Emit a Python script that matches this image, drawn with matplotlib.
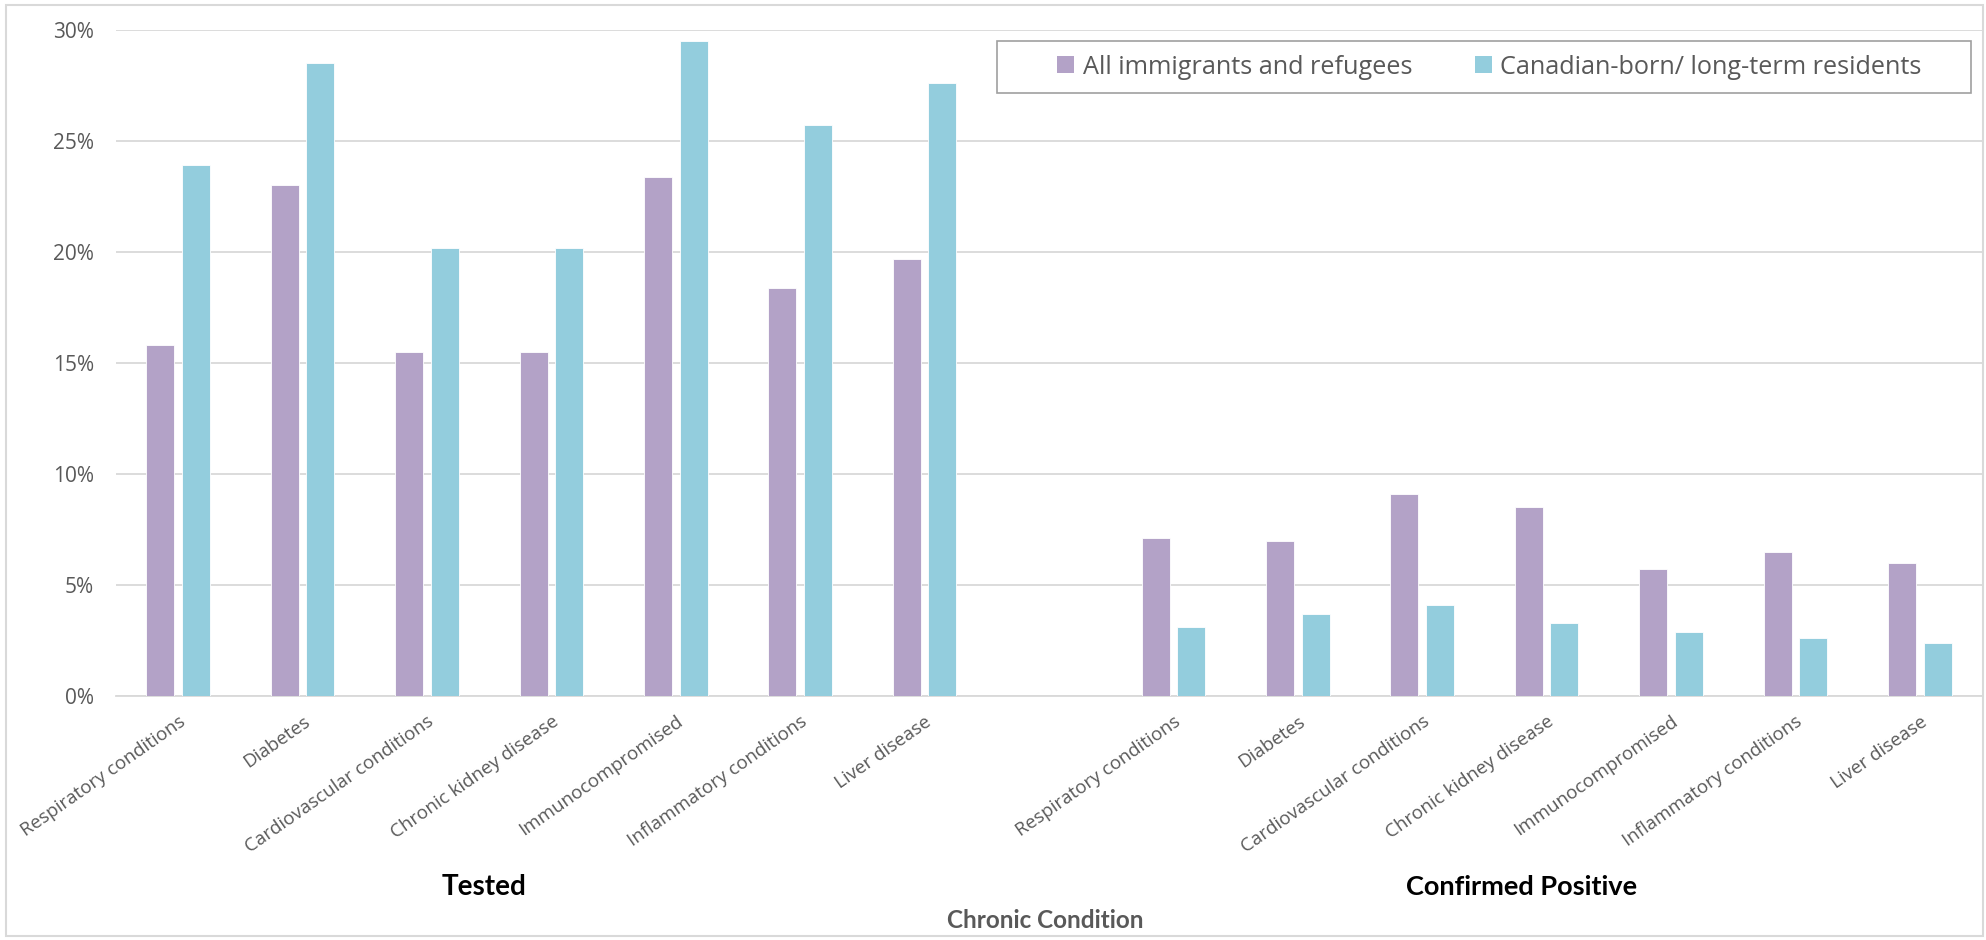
import matplotlib
matplotlib.use("Agg")
import matplotlib.pyplot as plt
from matplotlib.patches import Rectangle, Patch
import numpy as np

conditions = ["Respiratory conditions", "Diabetes", "Cardiovascular conditions",
              "Chronic kidney disease", "Immunocompromised",
              "Inflammatory conditions", "Liver disease"]
groups = ["Tested", "Confirmed Positive"]
series_names = ["All immigrants and refugees", "Canadian-born/ long-term residents"]

tested_immigrants = [15.8, 23.0, 15.5, 15.5, 23.4, 18.4, 19.7]
tested_canadian = [23.9, 28.5, 20.2, 20.2, 29.5, 25.7, 27.6]
positive_immigrants = [7.1, 7.0, 9.1, 8.5, 5.7, 6.5, 6.0]
positive_canadian = [3.1, 3.7, 4.1, 3.3, 2.9, 2.6, 2.4]

yticks = [0, 5, 10, 15, 20, 25, 30]

c_purple = "#B3A2C7"
c_cyan = "#93CDDD"
grid_c = "#D9D9D9"
txt_c = "#595959"

plt.rcParams['font.family'] = ['Open Sans', 'DejaVu Sans']

W, H = 1986, 940
fig = plt.figure(figsize=(W / 100, H / 100), dpi=100)
ax = fig.add_axes([116 / W, 1 - 696 / H, (1982 - 116) / W, (696 - 30) / H])

n = len(conditions)
x1 = np.arange(n)
x2 = np.arange(n) + n + 1
bw = 0.225
off = 0.143
kw = dict(width=bw, edgecolor="white", linewidth=0.6, zorder=3)
ax.bar(x1 - off, tested_immigrants, color=c_purple, **kw)
ax.bar(x1 + off, tested_canadian, color=c_cyan, **kw)
ax.bar(x2 - off, positive_immigrants, color=c_purple, **kw)
ax.bar(x2 + off, positive_canadian, color=c_cyan, **kw)

ax.set_xlim(-0.5, 2 * n + 0.5)
ax.set_ylim(0, 30)
ax.set_yticks(yticks)
ax.set_yticklabels([f"{v}%" for v in yticks], fontsize=15, color=txt_c)
ax.yaxis.grid(True, color=grid_c, linewidth=1.3, zorder=0)
ax.set_axisbelow(True)
for s in ["top", "right", "left"]:
    ax.spines[s].set_visible(False)
ax.spines["bottom"].set_color(grid_c)
ax.spines["bottom"].set_linewidth(1.3)
ax.tick_params(axis="y", length=0, pad=16)
ax.tick_params(axis="x", length=0, pad=12)

xt = list(x1) + list(x2)
ax.set_xticks(xt)
ax.set_xticklabels(conditions + conditions, rotation=35, ha="right",
                   rotation_mode="anchor", fontsize=13.5, color=txt_c)

# group labels
fig.text(484 / W, 1 - 887 / H, groups[0], fontsize=20, fontweight="bold",
         family=["Lato", "DejaVu Sans"], color="black", ha="center", va="center")
fig.text(1522 / W, 1 - 887 / H, groups[1], fontsize=19.5, fontweight="bold",
         family=["Lato", "DejaVu Sans"], color="black", ha="center", va="center")
fig.text(1045 / W, 1 - 921 / H, "Chronic Condition", fontsize=17.5,
         family=["Lato", "DejaVu Sans"], fontweight="bold", color=txt_c,
         ha="center", va="center")

handles = [Patch(facecolor=c_purple, edgecolor="none"),
           Patch(facecolor=c_cyan, edgecolor="none")]
fs_leg = 18.2
em = fs_leg * 100 / 72
leg = fig.legend(handles, series_names, loc="center left",
                 bbox_to_anchor=(1057 / W, 1 - 67 / H), ncol=2,
                 fontsize=fs_leg, frameon=False,
                 handlelength=17 / em, handleheight=17 / em,
                 handletextpad=9 / em, columnspacing=62 / em,
                 borderpad=0, borderaxespad=0)
for t in leg.get_texts():
    t.set_color(txt_c)
fig.patches.append(Rectangle((997 / W, 1 - 93 / H), (1971 - 997) / W, (93 - 41) / H,
                             transform=fig.transFigure, fill=False,
                             edgecolor="#A0A0A0", linewidth=1.2))

fig.patches.append(Rectangle((6 / W, 1 - 936 / H), (1983 - 6) / W, (936 - 5) / H,
                             transform=fig.transFigure, fill=False,
                             edgecolor=grid_c, linewidth=1.5))

fig.savefig("out.png", dpi=100)
